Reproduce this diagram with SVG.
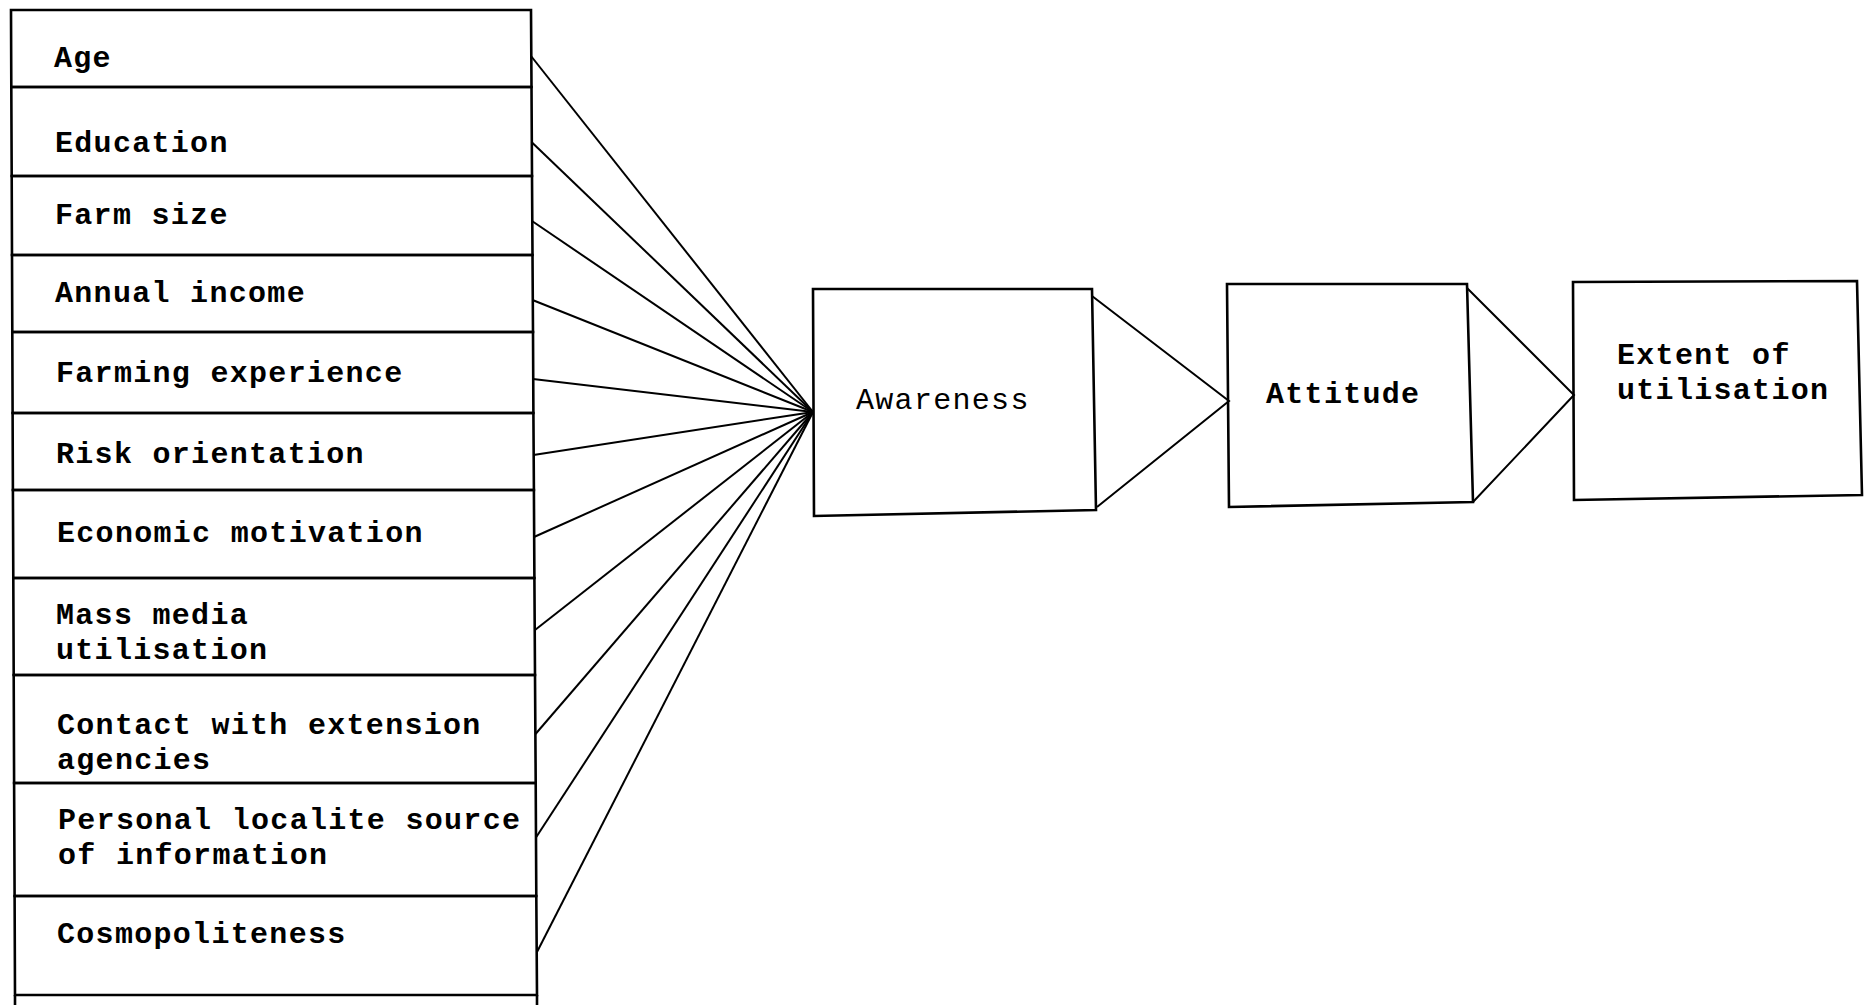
<svg xmlns="http://www.w3.org/2000/svg" width="1872" height="1005" viewBox="0 0 1872 1005">
<style>
.box{fill:none;stroke:#000;stroke-width:2.6;stroke-linejoin:miter}
.ln{fill:none;stroke:#000;stroke-width:2}
.t{font-family:"Liberation Mono","Courier New",monospace;font-size:30px;letter-spacing:1.3px;font-weight:bold;fill:#000}
.tn{font-family:"Liberation Mono","Courier New",monospace;font-size:30px;letter-spacing:1.3px;font-weight:normal;fill:#000}
</style>
<rect width="1872" height="1005" fill="#fff"/>
<g id="factors">
<g id="age"><path class="box" d="M11,10 L531,10 L531.5,87 L11.3,87 Z"/><text class="t" x="54" y="67">Age</text></g>
<g id="education"><path class="box" d="M11.3,87 L531.5,87 L532,176 L11.7,176 Z"/><text class="t" x="55" y="152">Education</text></g>
<g id="farm-size"><path class="box" d="M11.7,176 L532,176 L532.5,255 L12,255 Z"/><text class="t" x="55" y="224">Farm size</text></g>
<g id="annual-income"><path class="box" d="M12,255 L532.5,255 L533,332 L12.3,332 Z"/><text class="t" x="55" y="302">Annual income</text></g>
<g id="farming-experience"><path class="box" d="M12.3,332 L533,332 L533.4,413 L12.6,413 Z"/><text class="t" x="56" y="382">Farming experience</text></g>
<g id="risk-orientation"><path class="box" d="M12.6,413 L533.4,413 L533.9,490 L12.9,490 Z"/><text class="t" x="56" y="463">Risk orientation</text></g>
<g id="economic-motivation"><path class="box" d="M12.9,490 L533.9,490 L534.4,578 L13.3,578 Z"/><text class="t" x="57" y="542">Economic motivation</text></g>
<g id="mass-media"><path class="box" d="M13.3,578 L534.4,578 L535,675 L13.7,675 Z"/><text class="t"><tspan x="56" y="624">Mass media</tspan><tspan x="56" y="659">utilisation</tspan></text></g>
<g id="extension-contact"><path class="box" d="M13.7,675 L535,675 L535.7,783 L14.1,783 Z"/><text class="t"><tspan x="57" y="734">Contact with extension</tspan><tspan x="57" y="769">agencies</tspan></text></g>
<g id="personal-localite"><path class="box" d="M14.1,783 L535.7,783 L536.3,896 L14.6,896 Z"/><text class="t"><tspan x="58" y="829">Personal localite source</tspan><tspan x="58" y="864">of information</tspan></text></g>
<g id="cosmopoliteness"><path class="box" d="M14.6,896 L536.3,896 L537,995 L15,995 Z"/><text class="t" x="57" y="943">Cosmopoliteness</text></g>
<path class="box" d="M15,995 L15,1005 M537,995 L537,1005"/>
</g>
<g id="awareness"><path class="box" d="M813,289 L1092,289 L1096,510 L814,516 Z"/><text class="tn" x="856" y="409">Awareness</text></g>
<g id="attitude"><path class="box" d="M1227,284 L1467,284 L1473,502 L1229,507 Z"/><text class="t" x="1266" y="403">Attitude</text></g>
<g id="extent"><path class="box" d="M1573,282 L1857,281 L1862,495 L1574,500 Z"/><text class="t"><tspan x="1617" y="364">Extent of</tspan><tspan x="1617" y="399">utilisation</tspan></text></g>
<g id="connectors">
<line class="ln" x1="531" y1="56" x2="813" y2="412"/>
<line class="ln" x1="531.5" y1="142" x2="813" y2="412"/>
<line class="ln" x1="532" y1="221" x2="813" y2="412"/>
<line class="ln" x1="532.5" y1="300" x2="813" y2="412"/>
<line class="ln" x1="533" y1="379" x2="813" y2="412"/>
<line class="ln" x1="533.4" y1="455" x2="813" y2="412"/>
<line class="ln" x1="534" y1="537" x2="813" y2="412"/>
<line class="ln" x1="535" y1="630" x2="813" y2="412"/>
<line class="ln" x1="535.5" y1="734" x2="813" y2="412"/>
<line class="ln" x1="536.3" y1="837" x2="813" y2="412"/>
<line class="ln" x1="537" y1="952" x2="813" y2="412"/>
<polyline class="ln" points="1092,296 1229,401 1097,507"/>
<polyline class="ln" points="1467,288 1574,395 1473,502"/>
</g>
</svg>
